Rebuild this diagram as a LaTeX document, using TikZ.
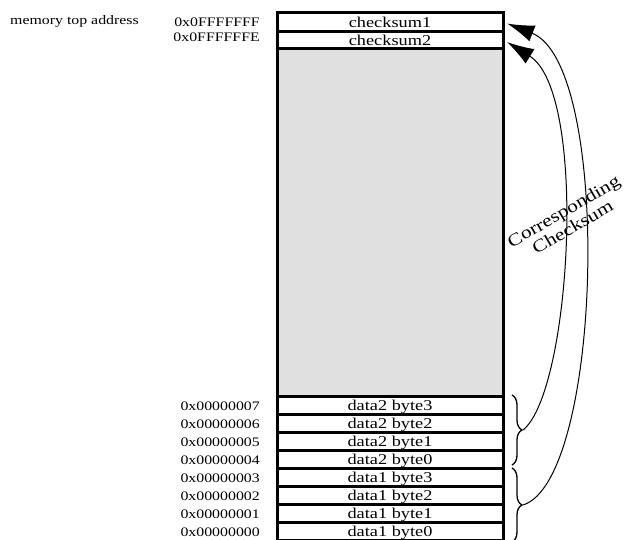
\documentclass[tikz,border=0pt]{standalone}
\usepackage{fontspec}
\setmainfont{Liberation Serif}[FakeStretch=1.22]
\usetikzlibrary{arrows.meta,decorations.pathreplacing}
\definecolor{freegray}{RGB}{224,224,224}

\begin{document}
\begin{tikzpicture}[
    x=1pt, y=-1pt,
    cell/.style={draw, line width=3pt, minimum width=226pt, minimum height=18pt, fill=white, inner sep=0pt, text height=10pt, text depth=0pt, font=\fontsize{15}{15}\selectfont},
    addr/.style={anchor=base east, inner sep=0pt, font=\fontsize{13}{13}\selectfont},
    group/.style={decorate, decoration={brace, amplitude=10pt}, line width=1.3pt},
    link/.style={-{Latex[length=27pt,width=17pt]}, line width=1pt, shorten >=3pt}
]
\clip (0,0) rectangle (625,540);

\node[anchor=base west, inner sep=0pt, font=\fontsize{13}{13}\selectfont] (top) at (10,25) {memory top address};

% memory column
\node[cell, fill=freegray, minimum height=348pt] (free) at (390,223) {};
\node[cell, minimum height=19pt] (cs1) at (390,22.5) {checksum1};
\node[cell, minimum height=17pt] (cs2) at (390,40.5) {checksum2};
\node[cell] (d7) at (390,406) {data2 byte3};
\node[cell] (d6) at (390,424) {data2 byte2};
\node[cell] (d5) at (390,442) {data2 byte1};
\node[cell] (d4) at (390,460) {data2 byte0};
\node[cell] (d3) at (390,478) {data1 byte3};
\node[cell] (d2) at (390,496) {data1 byte2};
\node[cell] (d1) at (390,514) {data1 byte1};
\node[cell] (d0) at (390,532) {data1 byte0};

% addresses
\node[addr] (acs1) at (260,27) {0x0FFFFFFF};
\node[addr] (acs2) at (260,42) {0x0FFFFFFE};
\node[addr] (a7) at (260,411) {0x00000007};
\node[addr] (a6) at (260,429) {0x00000006};
\node[addr] (a5) at (260,447) {0x00000005};
\node[addr] (a4) at (260,465) {0x00000004};
\node[addr] (a3) at (260,483) {0x00000003};
\node[addr] (a2) at (260,501) {0x00000002};
\node[addr] (a1) at (260,519) {0x00000001};
\node[addr] (a0) at (260,537) {0x00000000};

% braces and checksum links
\draw[group] (512,395) -- (512,465);
\draw[group] (512,468) -- (512,542);
\coordinate (t2) at (523,430);
\coordinate (t1) at (523,505);

\draw[link] (t2) .. controls +(48,-38) and +(84,52) .. (cs2.east);
\draw[link] (t1) .. controls +(80,-25) and +(108,42) .. (cs1.east);

\node[rotate=30, align=center, font=\fontsize{17.5}{18}\selectfont] (note) at (568,219) {Corresponding\\Checksum};

\end{tikzpicture}
\end{document}
